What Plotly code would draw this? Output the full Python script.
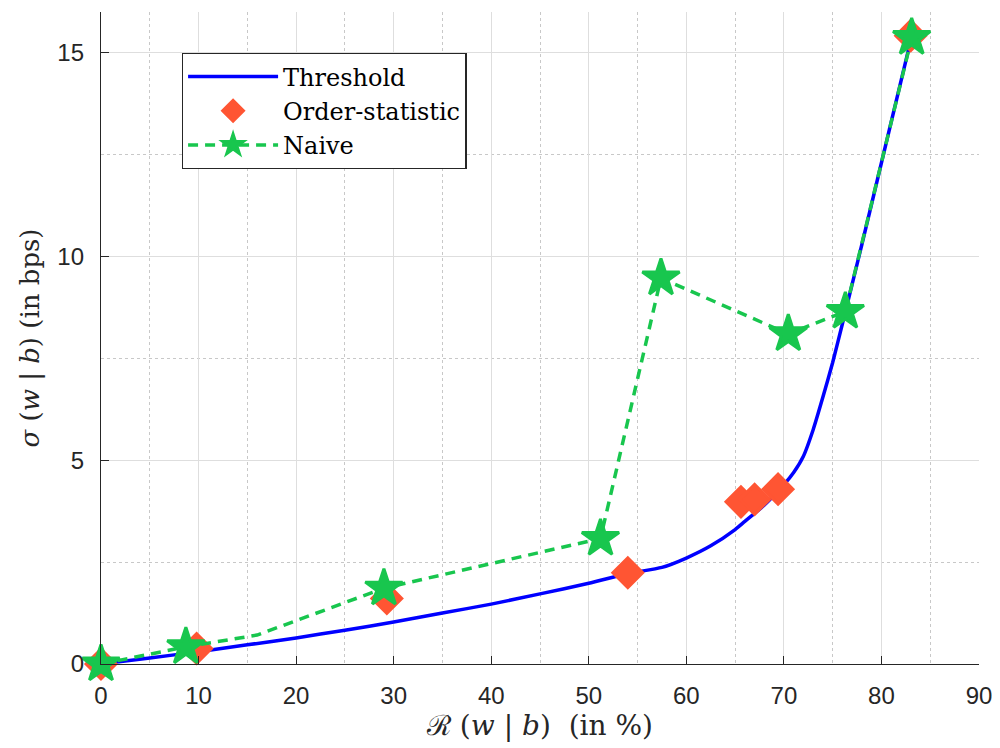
import plotly.graph_objects as go

# Threshold curve
thr_x = [0, 5, 10, 15, 20, 25, 30, 35, 40, 45, 50, 54, 57.5, 60, 62.5, 65, 66, 68, 70, 71, 72, 73, 74, 75, 76, 78, 80, 83.1]
thr_y = [0, 0.15, 0.30, 0.47, 0.64, 0.83, 1.03, 1.25, 1.47, 1.72, 1.98, 2.22, 2.37, 2.6, 2.9, 3.3, 3.5, 3.9, 4.4, 4.7, 5.1, 5.75, 6.55, 7.4, 8.35, 10.3, 12.3, 15.4]

# Order-statistic points
ord_x = [0, 9.8, 29.3, 54.0, 65.6, 67.0, 69.4, 83.0]
ord_y = [0, 0.38, 1.61, 2.24, 3.98, 4.04, 4.29, 15.42]

# Naive points (third vertex is an unmarked bend of the dashed line)
nav_x = [0, 8.7, 16.0, 29.0, 51.2, 57.4, 70.45, 76.3, 83.1]
nav_y = [0, 0.42, 0.71, 1.86, 3.08, 9.47, 8.10, 8.65, 15.37]
nav_marked = [1, 1, 0, 1, 1, 1, 1, 1, 1]

x_ticks = [0, 10, 20, 30, 40, 50, 60, 70, 80, 90]
y_ticks = [0, 5, 10, 15]

BLUE = "#0000ff"
ORANGE = "#ff5533"
GREEN = "#18c64e"
AXC = "#262626"
SERIF = "DejaVu Serif, Liberation Serif, serif"

fig = go.Figure()
fig.add_trace(go.Scatter(x=thr_x, y=thr_y, mode="lines", name="Threshold",
                         line=dict(color=BLUE, width=3.5, shape="spline", smoothing=0.6),
                         cliponaxis=False))
fig.add_trace(go.Scatter(x=ord_x, y=ord_y, mode="markers", name="Order-statistic",
                         cliponaxis=False,
                         marker=dict(symbol="diamond", size=23, color=ORANGE, opacity=1,
                                     line=dict(color=ORANGE, width=3))))
fig.add_trace(go.Scatter(x=nav_x, y=nav_y, mode="lines+markers", name="Naive",
                         cliponaxis=False,
                         line=dict(color=GREEN, width=3.5, dash="10px,7px"),
                         marker=dict(symbol="star", size=[28 * m for m in nav_marked], opacity=1,
                                     color=GREEN, line=dict(color=GREEN, width=[3 * m for m in nav_marked]))))

axis_common = dict(
    showline=True, linecolor=AXC, linewidth=1.3, mirror=False,
    ticks="inside", ticklen=8, tickcolor=AXC, tickwidth=1.3,
    showgrid=True, gridcolor="#dedede", gridwidth=1,
    zeroline=False, automargin=False,
    tickfont=dict(family="Liberation Sans, Arial, sans-serif", size=24, color=AXC),
)

# page body has an 8px margin, so the figure is offset by (8, 8)
fig.update_layout(
    width=988, height=736,
    margin=dict(l=93, r=17, t=4, b=80),
    paper_bgcolor="white", plot_bgcolor="white",
    showlegend=True,
    legend=dict(x=0.092, y=0.937, xanchor="left", yanchor="top",
                bgcolor="white", bordercolor=AXC, borderwidth=1.3,
                font=dict(family=SERIF, size=24, color="#000000"),
                itemwidth=90, tracegroupgap=0),
    xaxis=dict(range=[0, 90], tickvals=x_ticks, ticktext=[str(v) for v in x_ticks],
               minor=dict(dtick=5, tick0=0, showgrid=True, gridcolor="#c8c8c8", griddash="dot", gridwidth=1, ticks=""),
               ticklabelstandoff=10,
               title=dict(text="ℛ (<i>w</i> | <i>b</i>)  (in %)", font=dict(family=SERIF, size=28, color=AXC), standoff=1),
               **axis_common),
    yaxis=dict(range=[0, 16], tickvals=y_ticks, ticktext=[str(v) for v in y_ticks],
               minor=dict(dtick=2.5, tick0=0, showgrid=True, gridcolor="#c8c8c8", griddash="dot", gridwidth=1, ticks=""),
               ticklabelstandoff=11,
               title=dict(text="<i>σ</i> (<i>w</i> | <i>b</i>) (in bps)\u00a0\u00a0\u00a0",
                          font=dict(family=SERIF, size=26, color=AXC), standoff=10),
               **axis_common),
)

fig.write_html("out.html")
